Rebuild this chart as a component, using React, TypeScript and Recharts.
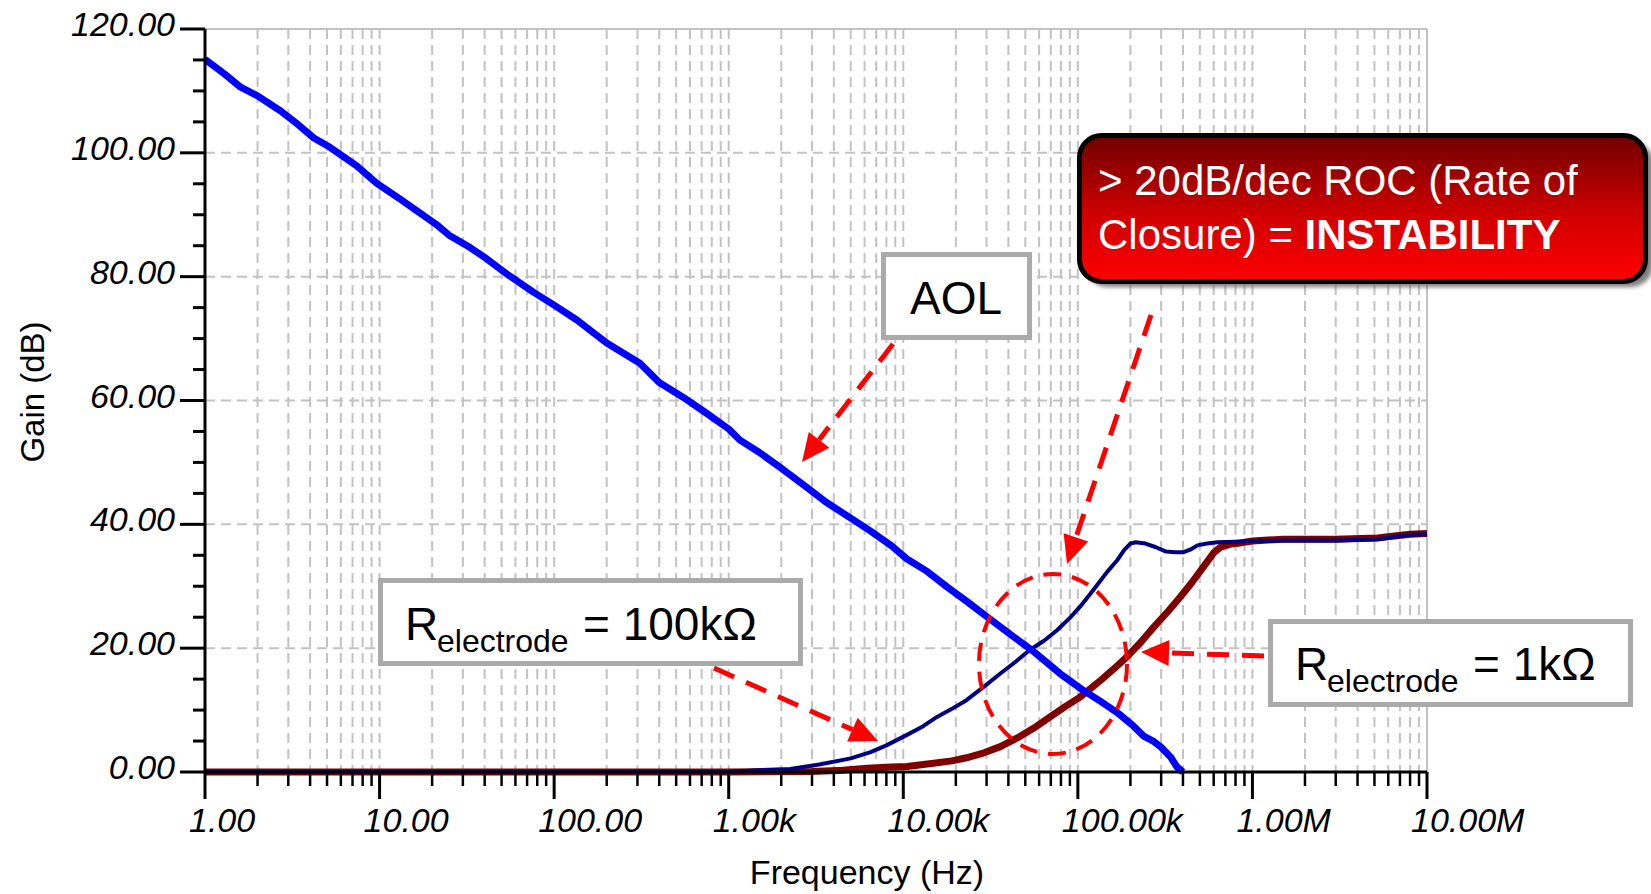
import React from 'react';
import { LineChart, Line, XAxis, YAxis, CartesianGrid, ReferenceLine } from 'recharts';

// open loop gain (AOL)
const aolFreq = [1, 1.3, 1.6, 2, 2.7, 3.4, 4.2, 5.2, 7.4, 9.6, 13, 17, 21, 25, 33, 41, 55, 76, 100, 135, 200, 310, 400, 550, 750, 1000, 1160, 1500, 1970, 2700, 3600, 5000, 6500, 8500, 10500, 13700, 17800, 23000, 30000, 43000, 55000, 79000, 106000, 135000, 168000, 205000, 238000, 270000, 300000, 340000, 370000, 400000];
const aolGain = [115.1, 112.7, 110.6, 109.2, 106.8, 104.6, 102.4, 100.9, 97.9, 95.1, 92.6, 90.3, 88.5, 86.7, 84.7, 82.9, 80.2, 77.5, 75.4, 73.0, 69.3, 66.0, 62.9, 60.5, 57.9, 55.4, 53.6, 51.6, 49.2, 46.3, 43.6, 41.0, 38.9, 36.6, 34.4, 32.4, 29.9, 27.6, 25.1, 21.8, 19.6, 15.9, 13.3, 11.4, 9.6, 7.6, 5.8, 5.0, 4.0, 2.4, 0.8, 0.0];

// Relectrode = 100k
const r100kFreq = [1, 10, 100, 1000, 1450, 2250, 3300, 5000, 6500, 8000, 10500, 13000, 15600, 19000, 23000, 29000, 36000, 44000, 53000, 64000, 76000, 90000, 103000, 115000, 129000, 148000, 168000, 185000, 200000, 215000, 244000, 280000, 320000, 360000, 403000, 440000, 484000, 550000, 630000, 800000, 1000000, 1500000, 3000000, 5200000, 6500000, 8000000, 10000000];
const r100kGain = [0, 0, 0, 0, 0.3, 0.5, 1.2, 2.2, 3.2, 4.3, 6.0, 7.4, 8.9, 10.2, 11.6, 13.8, 15.9, 17.8, 19.7, 21.2, 22.9, 24.9, 26.7, 28.4, 30.2, 32.4, 34.2, 35.9, 36.9, 37.1, 36.9, 36.3, 35.6, 35.5, 35.5, 35.9, 36.6, 36.9, 37.1, 37.2, 37.3, 37.4, 37.4, 37.6, 38.0, 38.3, 38.4];

// Relectrode = 1k
const r1kFreq = [1, 10, 100, 1000, 3000, 4500, 6200, 8500, 10500, 14900, 19000, 23000, 29000, 36000, 45000, 56000, 70000, 85000, 103000, 135000, 160000, 191000, 230000, 272000, 330000, 387000, 450000, 520000, 600000, 656000, 750000, 853000, 1000000, 1500000, 3000000, 5200000, 6500000, 8000000, 10000000];
const r1kGain = [0, 0, 0, 0, 0.1, 0.3, 0.6, 0.8, 0.9, 1.4, 1.8, 2.3, 3.1, 4.1, 5.5, 7.1, 9.0, 10.6, 12.1, 14.8, 16.6, 18.6, 21.0, 23.4, 26.0, 28.3, 30.6, 33.0, 35.4, 36.3, 36.8, 37.0, 37.3, 37.6, 37.6, 37.8, 38.1, 38.4, 38.5];

const xMajorTicks = [1, 10, 100, 1000, 10000, 100000, 1000000, 10000000];
const xTickLabels = ['1.00', '10.00', '100.00', '1.00k', '10.00k', '100.00k', '1.00M', '10.00M'];
const xMinorSteps = [2, 3, 4, 5, 6, 7, 8, 9];
const yMajorTicks = [0, 20, 40, 60, 80, 100, 120];
const yTickLabels = ['0.00', '20.00', '40.00', '60.00', '80.00', '100.00', '120.00'];
const yGridValues = [20, 40, 60, 80, 100];

const FONT = '"Liberation Sans", Arial, Helvetica, sans-serif';

const toRows = (f: number[], g: number[]) => f.map((v, i) => ({ f: v, g: g[i] }));
const aolData = toRows(aolFreq, aolGain);
const r100kData = toRows(r100kFreq, r100kGain);
const r1kData = toRows(r1kFreq, r1kGain);

const xTicks: number[] = [];
xMajorTicks.slice(0, -1).forEach((d) => {
  xTicks.push(d);
  xMinorSteps.forEach((m) => xTicks.push(d * m));
});
xTicks.push(10000000);
const xGridValues = xTicks.filter((v) => v > 1 && v < 10000000);

const yTicks: number[] = [];
for (let v = 0; v <= 120; v += 5) yTicks.push(v);

const XTick = ({ x, y, payload }: any) => {
  const idx = xMajorTicks.indexOf(payload.value);
  const major = idx >= 0;
  return (
    <g>
      <line x1={x} x2={x} y1={y} y2={y + (major ? 27 : 14)} stroke="#000" strokeWidth={major ? 3 : 2.5} />
      {major && (
        <text x={x - 16} y={y + 60} textAnchor="start" fontSize={34} fontStyle="italic" fontFamily={FONT} fill="#000">
          {xTickLabels[idx]}
        </text>
      )}
    </g>
  );
};

const YTick = ({ x, y, payload }: any) => {
  const idx = yMajorTicks.indexOf(payload.value);
  const major = idx >= 0;
  return (
    <g>
      <line x1={x - (major ? 25 : 12)} x2={x} y1={y} y2={y} stroke="#000" strokeWidth={3} />
      {major && (
        <text x={x - 30} y={y + 7} textAnchor="end" fontSize={34} fontStyle="italic" fontFamily={FONT} fill="#000">
          {yTickLabels[idx]}
        </text>
      )}
    </g>
  );
};

function Arrow({ x1, y1, x2, y2 }: { x1: number; y1: number; x2: number; y2: number }) {
  const len = Math.hypot(x2 - x1, y2 - y1);
  const ux = (x2 - x1) / len;
  const uy = (y2 - y1) / len;
  const hl = 28;
  const hw = 13;
  const bx = x2 - ux * hl;
  const by = y2 - uy * hl;
  return (
    <g>
      <line x1={x1} y1={y1} x2={bx} y2={by} stroke="#ff0000" strokeWidth={5} strokeDasharray="22 13" />
      <polygon
        points={`${x2},${y2} ${bx - uy * hw},${by + ux * hw} ${bx + uy * hw},${by - ux * hw}`}
        fill="#ff0000"
      />
    </g>
  );
}

function Annotations() {
  return (
    <svg
      width={1651}
      height={894}
      style={{ position: 'absolute', left: 0, top: 0, pointerEvents: 'none' }}
      fontFamily={FONT}
    >
      <defs>
        <linearGradient id="rocFill" x1="0" y1="0" x2="0" y2="1">
          <stop offset="0%" stopColor="#700000" />
          <stop offset="55%" stopColor="#d00000" />
          <stop offset="100%" stopColor="#ff0000" />
        </linearGradient>
        <filter id="blur" x="-10%" y="-10%" width="120%" height="130%">
          <feGaussianBlur stdDeviation="2" />
        </filter>
      </defs>

      {/* axis titles */}
      <text transform="translate(44,392) rotate(-90)" textAnchor="middle" fontSize={33} fill="#000">
        Gain (dB)
      </text>
      <text x={867} y={884} textAnchor="middle" fontSize={34} fill="#000">
        Frequency (Hz)
      </text>

      {/* AOL label */}
      <rect x={883.5} y={254.5} width={146} height={83} fill="#fff" stroke="#aaa" strokeWidth={5} />
      <text x={956} y={314} textAnchor="middle" fontSize={46} fill="#000">AOL</text>

      {/* ROC callout */}
      <rect x={1085} y={141} width={568} height={146} rx={22} fill="#555" opacity={0.75} filter="url(#blur)" />
      <rect x={1079.5} y={135.5} width={566} height={146} rx={22} fill="url(#rocFill)" stroke="#000" strokeWidth={5} />
      <text x={1098} y={195} fontSize={42} fill="#fff">&gt; 20dB/dec ROC (Rate of</text>
      <text x={1098} y={249} fontSize={42} fill="#fff">
        Closure) = <tspan fontWeight="bold">INSTABILITY</tspan>
      </text>

      {/* Relectrode = 100k */}
      <rect x={380.5} y={580.5} width={420} height={83} fill="#fff" stroke="#aaa" strokeWidth={5} />
      <text fontSize={46} fill="#000">
        <tspan x={405} y={640}>R</tspan>
        <tspan x={437} y={652} fontSize={32}>electrode</tspan>
        <tspan x={583} y={640}>= 100kΩ</tspan>
      </text>

      {/* Relectrode = 1k */}
      <rect x={1270.5} y={621.5} width={360} height={83} fill="#fff" stroke="#aaa" strokeWidth={5} />
      <text fontSize={46} fill="#000">
        <tspan x={1295} y={680}>R</tspan>
        <tspan x={1327} y={692} fontSize={32}>electrode</tspan>
        <tspan x={1473} y={680}>= 1kΩ</tspan>
      </text>

      {/* arrows and the closure circle */}
      <Arrow x1={893} y1={344} x2={802} y2={462} />
      <Arrow x1={1151} y1={315} x2={1067} y2={564} />
      <Arrow x1={714} y1={668} x2={878} y2={741} />
      <Arrow x1={1264} y1={656} x2={1141} y2={652} />
      <ellipse cx={1053} cy={664} rx={74} ry={90} fill="none" stroke="#ff0000" strokeWidth={4} strokeDasharray="18 11" />
    </svg>
  );
}

export default function App() {
  return (
    <div style={{ position: 'relative', width: 1651, height: 894, overflow: 'hidden', background: '#fff' }}>
      <style>{'body{margin:0;}'}</style>
      <LineChart width={1651} height={894} margin={{ top: 29, right: 224, bottom: 42, left: 125 }}>
        <CartesianGrid
          horizontalValues={yGridValues}
          verticalValues={xGridValues}
          stroke="#c2c2c2"
          strokeWidth={2}
          strokeDasharray="10 6"
        />
        <ReferenceLine y={120} stroke="#c2c2c2" strokeWidth={2} />
        <ReferenceLine x={10000000} stroke="#c2c2c2" strokeWidth={2} />
        <XAxis
          dataKey="f"
          type="number"
          scale="log"
          domain={[1, 10000000]}
          ticks={xTicks}
          interval={0}
          tickSize={0}
          tickMargin={0}
          tickLine={false}
          tick={<XTick />}
          height={80}
          axisLine={{ stroke: '#000', strokeWidth: 3 }}
          allowDataOverflow
        />
        <YAxis
          type="number"
          domain={[0, 120]}
          ticks={yTicks}
          interval={0}
          tickSize={0}
          tickMargin={0}
          tickLine={false}
          tick={<YTick />}
          width={80}
          axisLine={{ stroke: '#000', strokeWidth: 3 }}
        />
        <Line data={r1kData} dataKey="g" type="linear" stroke="#800000" strokeWidth={7} dot={false} isAnimationActive={false} strokeLinejoin="round" />
        <Line data={r100kData} dataKey="g" type="linear" stroke="#000080" strokeWidth={4} dot={false} isAnimationActive={false} strokeLinejoin="round" />
        <Line data={aolData} dataKey="g" type="linear" stroke="#0000ff" strokeWidth={7} dot={false} isAnimationActive={false} strokeLinejoin="round" />
      </LineChart>
      <Annotations />
    </div>
  );
}
